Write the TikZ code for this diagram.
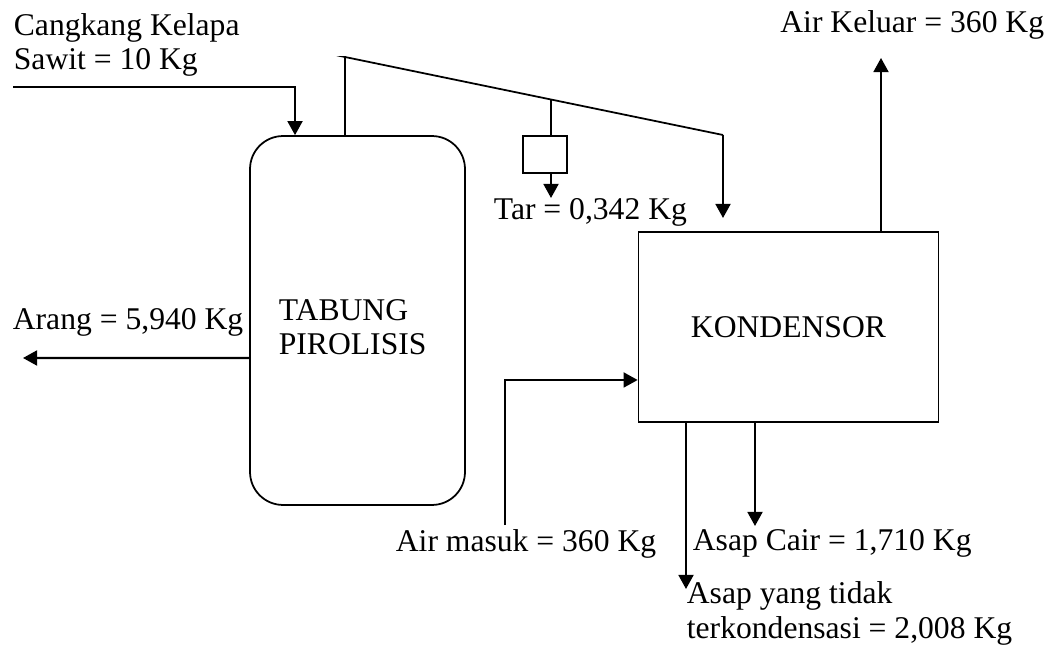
\documentclass[tikz,border=0pt]{standalone}
\usepackage{fontspec}
\setmainfont{Liberation Serif}
\usetikzlibrary{arrows.meta,positioning,calc}

\begin{document}
\begin{tikzpicture}[x=0.02cm, y=-0.02cm, line width=1pt,
  every node/.style={font=\fontsize{18}{19.9}\selectfont, inner sep=0pt},
  flow/.style={-{Triangle[length=8pt,width=8.5pt]}, line width=1.2pt}]
  \useasboundingbox (0,0) rectangle (1054,651);
  % units
  \node[draw, rounded corners=0.66cm, minimum width=4.3cm, minimum height=7.38cm] (tabung) at (357.5,320.5) {};
  \node[align=left, anchor=base west] (tabunglbl) at (278,355) {TABUNG\\PIROLISIS};
  \node[draw, minimum width=6cm, minimum height=3.8cm] (kondensor) at (788.5,327) {KONDENSOR};
  \node[draw, minimum width=0.88cm, minimum height=0.74cm] (tarbox) at (545,154.5) {};
  % free ends
  \coordinate (umpan) at (13,87);
  \coordinate (puncak) at (345,57);
  \coordinate (belok) at (723,135);
  \coordinate (cabang) at ($(puncak)!0.545!(belok)$);
  \coordinate (keKondensor) at (723,218);
  \coordinate (tarout) at (551,198);
  \coordinate (arangout) at (23,358);
  \coordinate (keluarout) at (881,58);
  \coordinate (airmasuk) at (505,525);
  \coordinate (cairout) at (755,526);
  \coordinate (sisaout) at (686,589);
  % flows
  \draw[flow] (umpan) -| ([xshift=-1.25cm]tabung.north);
  \draw ([xshift=-0.25cm]tabung.north) |- (puncak) -- (belok);
  \draw[flow] (belok) -- (keKondensor);
  \draw (cabang) -- (cabang |- tarbox.north);
  \draw[flow] (tarout |- tarbox.south) -- (tarout);
  \draw[flow] ([yshift=-0.75cm]tabung.west) -- (arangout);
  \draw[flow] (keluarout |- kondensor.north) -- (keluarout);
  \draw[flow] (airmasuk) |- ([yshift=-1.06cm]kondensor.west);
  \draw[flow] (cairout |- kondensor.south) -- (cairout);
  \draw[flow] (sisaout |- kondensor.south) -- (sisaout);
  % labels
  \node[align=left, anchor=base west] (umpanlbl) at (13,70) {Cangkang Kelapa\\Sawit = 10 Kg};
  \node[anchor=base west] (tarlbl) at (493,220) {Tar = 0,342 Kg};
  \node[anchor=base west] (aranglbl) at (12,330) {Arang = 5,940 Kg};
  \node[anchor=base east] (keluarlbl) at (1045,33) {Air Keluar = 360 Kg};
  \node[anchor=base west] (masuklbl) at (395,551) {Air masuk = 360 Kg};
  \node[anchor=base west] (cairlbl) at (692,550) {Asap Cair = 1,710 Kg};
  \node[align=left, anchor=base west] (sisalbl) at (686,638) {Asap yang tidak\\terkondensasi = 2,008 Kg};
\end{tikzpicture}
\end{document}
